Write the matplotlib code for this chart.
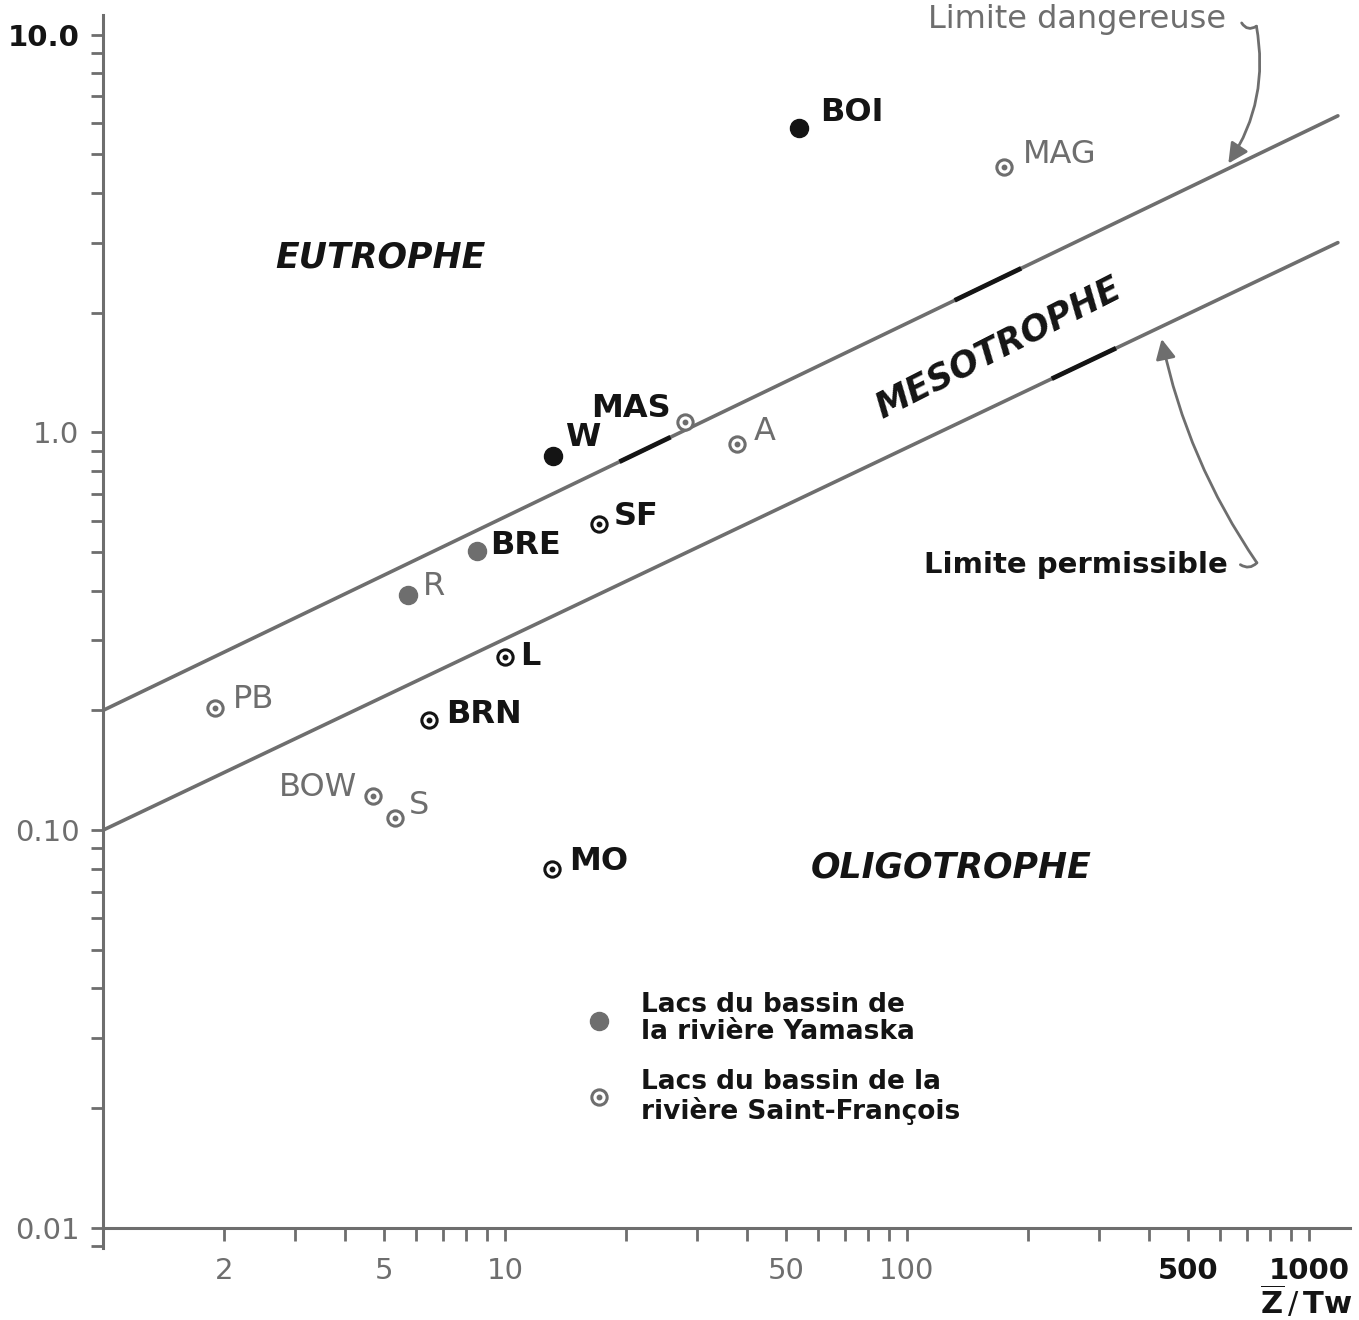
import numpy as np
import matplotlib
matplotlib.use('Agg')
import matplotlib.pyplot as plt
from matplotlib.ticker import FixedLocator, FixedFormatter, LogLocator, NullFormatter

plt.rcParams['font.family'] = ['DejaVu Sans']
plt.rcParams['mathtext.fontset'] = 'dejavusans'

GRAY = '#6e6e6e'
INK = '#141414'

### DATA

# lakes: mean depth / residence time vs phosphorus load
lakes = ['BOI', 'MAG', 'W', 'MAS', 'A', 'SF', 'BRE', 'R', 'L', 'PB', 'BRN', 'BOW', 'S', 'MO']
z_tw = [53.9, 174, 13.2, 28.0, 37.8, 17.1, 8.5, 5.74, 10.0, 1.90, 6.47, 4.69, 5.33, 13.1]
load = [5.83, 4.65, 0.873, 1.06, 0.935, 0.587, 0.504, 0.391, 0.273, 0.203, 0.189, 0.122, 0.107, 0.080]
basin = ['Y', 'SF', 'Y', 'SF', 'SF', 'SF', 'Y', 'Y', 'SF', 'SF', 'SF', 'SF', 'SF', 'SF']

# limit lines (end points)
limit_x = [1, 1180]
danger_y = [0.2, 6.25]
permis_y = [0.1, 3.0]

x_ticks = [2, 5, 10, 50, 100, 500, 1000]
x_labels = ['2', '5', '10', '50', '100', '500', '1000']
y_ticks = [0.01, 0.1, 1.0, 10.0]
y_labels = ['0.01', '0.10', '1.0', '10.0']

legend_labels = ['Lacs du bassin de\nla rivière Yamaska',
                 'Lacs du bassin de la\nrivière Saint-François']

### STYLE

dark_marks = {'BOI', 'W', 'SF', 'L', 'BRN', 'MO'}
dark_text = {'BOI', 'W', 'MAS', 'SF', 'BRE', 'L', 'BRN', 'MO'}
# label offsets in points (dx, dy, ha)
offsets = {
    'BOI': (15, 11, 'left'), 'MAG': (14, 9, 'left'), 'W': (8, 13, 'left'),
    'MAS': (-10, 10, 'right'), 'A': (12, 9, 'left'), 'SF': (11, 6, 'left'),
    'BRE': (10, 4, 'left'), 'R': (11, 6, 'left'), 'L': (11, 0, 'left'),
    'PB': (13, 6, 'left'), 'BRN': (12, 4, 'left'), 'BOW': (-11, 6, 'right'),
    'S': (10, 9, 'left'), 'MO': (12, 5, 'left'),
}


def on_line(xs, ys, x):
    return 10 ** np.interp(np.log10(x), np.log10(xs), np.log10(ys))


fig = plt.figure(figsize=(13.59, 13.20), dpi=100)
ax = fig.add_axes([0.0758, 0.0545, 0.9176, 0.9341])
ax.set_xscale('log')
ax.set_yscale('log')
ax.set_xlim(1, 1265)
ax.set_ylim(0.0089, 11.2)

for s in ['top', 'right']:
    ax.spines[s].set_visible(False)
ax.spines['bottom'].set_position(('data', 0.01))
for s in ['left', 'bottom']:
    ax.spines[s].set_color(GRAY)
    ax.spines[s].set_linewidth(2.2)

ax.xaxis.set_major_locator(FixedLocator(x_ticks))
ax.xaxis.set_major_formatter(FixedFormatter(x_labels))
ax.xaxis.set_minor_locator(LogLocator(base=10, subs=np.arange(1, 10), numticks=30))
ax.xaxis.set_minor_formatter(NullFormatter())
ax.yaxis.set_major_locator(FixedLocator(y_ticks))
ax.yaxis.set_major_formatter(FixedFormatter(y_labels))
ax.yaxis.set_minor_locator(LogLocator(base=10, subs=np.arange(1, 10), numticks=30))
ax.yaxis.set_minor_formatter(NullFormatter())
ax.tick_params(which='both', direction='out', length=9, width=2.0, color=GRAY)
ax.tick_params(axis='x', which='major', pad=12, labelsize=21, labelcolor=GRAY)
ax.tick_params(axis='y', which='major', pad=8, labelsize=21, labelcolor=GRAY)
for lab, v in zip(ax.get_xticklabels(), x_ticks):
    if v >= 500:
        lab.set_color(INK)
        lab.set_fontweight('bold')
for lab, v in zip(ax.get_yticklabels(), y_ticks):
    if v >= 10:
        lab.set_color(INK)
        lab.set_fontweight('bold')

# limit lines
ax.plot(limit_x, danger_y, color=GRAY, lw=2.6, solid_capstyle='round', zorder=2)
ax.plot(limit_x, permis_y, color=GRAY, lw=2.6, solid_capstyle='round', zorder=2)
for x0, x1, ys in [(19.5, 25.5, danger_y), (133, 190, danger_y), (232, 327, permis_y)]:
    xs = np.array([x0, x1])
    ax.plot(xs, on_line(limit_x, ys, xs), color=INK, lw=3.4, zorder=3)

# lakes
for name, x, y, b in zip(lakes, z_tw, load, basin):
    c = INK if name in dark_marks else GRAY
    if b == 'Y':
        ax.plot(x, y, 'o', ms=13, color=c, mec=c, zorder=4)
    else:
        ax.plot(x, y, 'o', ms=11, mfc='white', mec=c, mew=2.2, zorder=4)
        ax.plot(x, y, 'o', ms=3.2, color=c, zorder=5)
    dx, dy, ha = offsets[name]
    dark = name in dark_text
    ax.annotate(name, (x, y), xytext=(dx, dy), textcoords='offset points',
                ha=ha, va='center', fontsize=23,
                fontweight='bold' if dark else 'normal',
                color=INK if dark else GRAY)

# trophic zones
zone_kw = dict(fontsize=25, style='italic', fontweight='bold', color=INK,
               ha='center', va='center')
ax.text(4.89, 2.75, 'EUTROPHE', **zone_kw)
ax.text(169, 1.63, 'MESOTROPHE', rotation=27, rotation_mode='anchor', **zone_kw)
ax.text(129, 0.0804, 'OLIGOTROPHE', **zone_kw)

# limit labels with arrows
tip_d = 630
ax.text(113, 10.9, 'Limite dangereuse', fontsize=23, color=GRAY,
        ha='left', va='center', clip_on=False)
ax.annotate('', xy=(tip_d, on_line(limit_x, danger_y, tip_d) * 1.03), xytext=(740, 10.5),
            arrowprops=dict(arrowstyle='-|>', connectionstyle='arc3,rad=-0.2',
                            color=GRAY, lw=2.0, shrinkA=0, shrinkB=0,
                            mutation_scale=30), annotation_clip=False)
ax.annotate('', xy=(740, 10.5), xytext=(680, 10.7),
            arrowprops=dict(arrowstyle='-', connectionstyle='arc3,rad=0.5',
                            color=GRAY, lw=2.0, shrinkA=0, shrinkB=0),
            annotation_clip=False)

tip_p = 430
ax.text(110, 0.464, 'Limite permissible', fontsize=21, fontweight='bold', color=INK,
        ha='left', va='center')
ax.annotate('', xy=(tip_p, on_line(limit_x, permis_y, tip_p) * 0.93), xytext=(742, 0.47),
            arrowprops=dict(arrowstyle='-|>', connectionstyle='arc3,rad=-0.1',
                            color=GRAY, lw=2.0, shrinkA=0, shrinkB=0,
                            mutation_scale=30))
ax.annotate('', xy=(742, 0.47), xytext=(675, 0.465),
            arrowprops=dict(arrowstyle='-', connectionstyle='arc3,rad=0.4',
                            color=GRAY, lw=2.0, shrinkA=0, shrinkB=0))

# legend
ax.plot([0.398], [0.184], 'o', ms=13, color=GRAY, transform=ax.transAxes, clip_on=False)
ax.plot([0.398], [0.1225], 'o', ms=11, mfc='white', mec=GRAY, mew=2.2,
        transform=ax.transAxes, clip_on=False)
ax.plot([0.398], [0.1225], 'o', ms=3.2, color=GRAY, transform=ax.transAxes, clip_on=False)
ax.text(0.4315, 0.186, legend_labels[0], transform=ax.transAxes, fontsize=19,
        fontweight='bold', color=INK, ha='left', va='center', linespacing=1.05)
ax.text(0.4315, 0.1225, legend_labels[1], transform=ax.transAxes, fontsize=19,
        fontweight='bold', color=INK, ha='left', va='center', linespacing=1.05)

fig.text(0.995, 0.0136, r'$\overline{\mathbf{Z}}\,/\,\mathbf{Tw}$', fontsize=22,
         color=INK, ha='right', va='center')

fig.savefig('out.png', dpi=100)
